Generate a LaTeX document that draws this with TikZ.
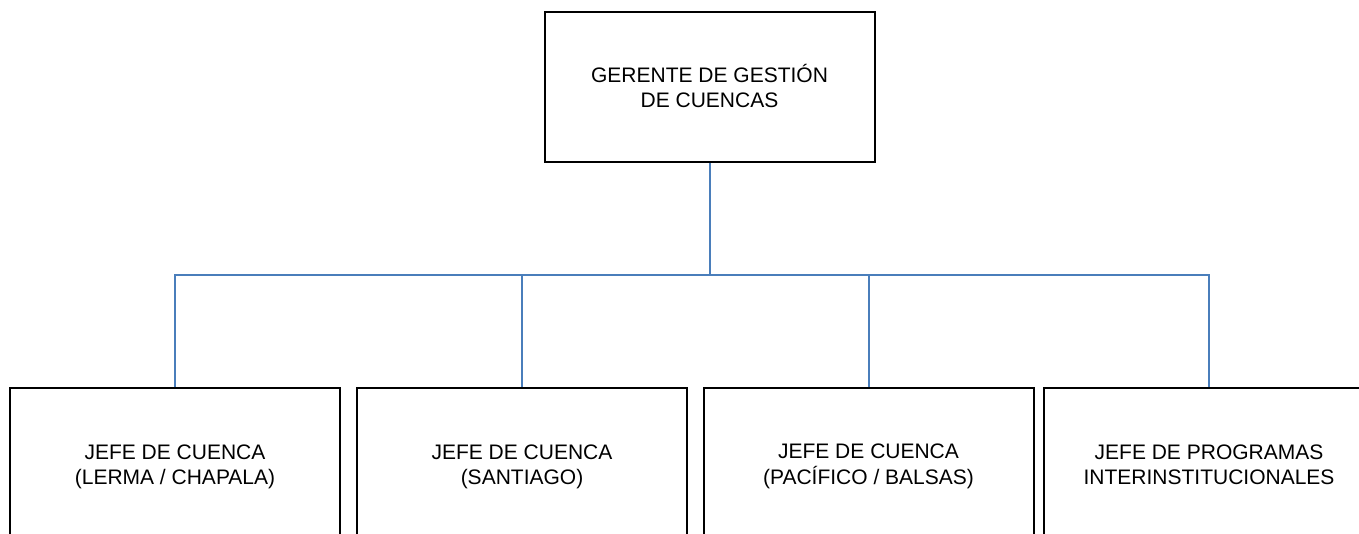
\documentclass[tikz,border=0pt]{standalone}
\usepackage{fontspec}
\setmainfont{Liberation Sans}
\newcommand\boxtext[2]{\raisebox{#1}[\height][\depth]{\begin{tabular}{@{}c@{}}#2\end{tabular}}}
\begin{document}
\begin{tikzpicture}[x=1pt,y=-1pt,
  box/.style={draw=black,line width=2pt,minimum width=330pt,inner sep=0pt,
    font=\fontsize{21}{25}\selectfont},
  conn/.style={draw={rgb,255:red,74;green,126;blue,187},line width=2pt}]
\useasboundingbox (0,0) rectangle (1359,534);
\clip (0,0) rectangle (1359,534);
\node[box,minimum height=150pt] (top) at (709.5,87) {\boxtext{-2.5pt}{GERENTE DE GESTIÓN\\DE CUENCAS}};
\node[box,minimum height=154pt] (b1) at (175,465) {\boxtext{-1.5pt}{JEFE DE CUENCA\\(LERMA / CHAPALA)}};
\node[box,minimum height=154pt] (b2) at (522,465) {\boxtext{-1.5pt}{JEFE DE CUENCA\\(SANTIAGO)}};
\node[box,minimum height=154pt] (b3) at (868.5,465) {\boxtext{-1.5pt}{JEFE DE CUENCA\\(PACÍFICO / BALSAS)}};
\node[box,minimum height=154pt] (b4) at (1209,465) {\boxtext{-1.5pt}{JEFE DE PROGRAMAS\\INTERINSTITUCIONALES}};
\coordinate (j) at (709.5,275);
\draw[conn] (top.south) -- (j);
\draw[conn] (b1.north) -- (b1.north |- j) -- (b4.north |- j) -- (b4.north);
\draw[conn] (b2.north) -- (b2.north |- j);
\draw[conn] (b3.north) -- (b3.north |- j);
\end{tikzpicture}
\end{document}
